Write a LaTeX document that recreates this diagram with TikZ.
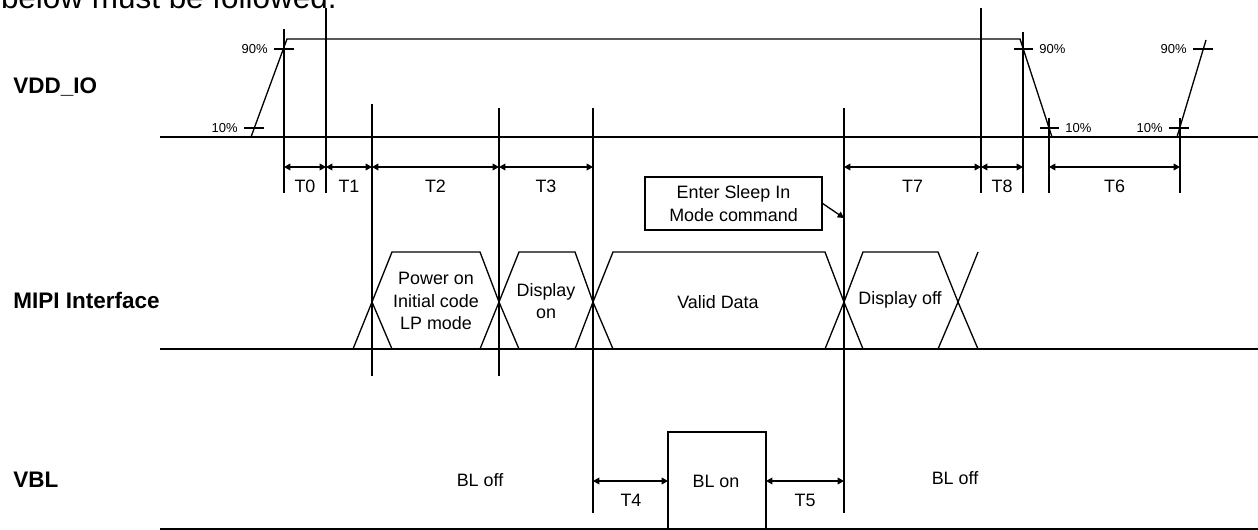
\documentclass[tikz,border=0pt]{standalone}
\usepackage{fontspec}
\setmainfont{Liberation Sans}
\usetikzlibrary{arrows.meta}

\tikzset{
  sig/.style={line width=0.75pt},
  dim/.style={line width=0.75pt,
    {Triangle[length=3.6pt,width=3.8pt]}-{Triangle[length=3.6pt,width=3.8pt]}},
  lbl/.style={font=\fontsize{10.2}{12.7}\selectfont, inner sep=0pt, align=center},
  pct/.style={font=\fontsize{7.4}{9}\selectfont, inner sep=0pt},
  signame/.style={font=\fontsize{12.8}{15}\selectfont\bfseries, inner sep=0pt, anchor=west},
}

\begin{document}
\begin{tikzpicture}[x=0.02cm, y=-0.02cm]
  \useasboundingbox (0,0) rectangle (1258,530);

  \node[font=\fontsize{17.9}{20}\selectfont, inner sep=0pt, anchor=base east] (head) at (337,9) {below must be followed.};

  % signal names
  \node[signame] (vdd) at (13,87) {VDD\_IO};
  \node[signame] (mipi) at (13,300) {MIPI Interface};
  \node[signame] (vbl) at (13,480) {VBL};

  % VDD_IO
  \draw[sig] (160,137) -- (1258,137);
  \draw[sig] (251,137) -- (287,39) -- (1020,39) -- (1052,137) -- (1177,137) -- (1206,40);
  \draw[sig] (244,128) -- (264,128);
  \draw[sig] (274,49) -- (294,49);
  \draw[sig] (1014,49) -- (1033,49);
  \draw[sig] (1040,128) -- (1059,128);
  \draw[sig] (1169,128) -- (1189,128);
  \draw[sig] (1193,49) -- (1213,49);
  \node[pct, anchor=east] (p10a) at (238,128) {10\%};
  \node[pct, anchor=east] (p90a) at (268,49) {90\%};
  \node[pct, anchor=west] (p90b) at (1039,49) {90\%};
  \node[pct, anchor=west] (p10b) at (1065,128) {10\%};
  \node[pct, anchor=east] (p10c) at (1163,128) {10\%};
  \node[pct, anchor=east] (p90c) at (1187,49) {90\%};

  % timing lines
  \draw[sig] (284,29) -- (284,193);
  \draw[sig] (326,8) -- (326,193);
  \draw[sig] (372,104) -- (372,376);
  \draw[sig] (499,108) -- (499,376);
  \draw[sig] (593,108) -- (593,513);
  \draw[sig] (844,108) -- (844,513);
  \draw[sig] (981,8) -- (981,193);
  \draw[sig] (1023,32) -- (1023,193);
  \draw[sig] (1049,118) -- (1049,193);
  \draw[sig] (1180,118) -- (1180,193);

  \foreach \a/\b/\t in {284/326/T0, 326/372/T1, 372/499/T2, 499/593/T3,
                        844/981/T7, 981/1023/T8, 1049/1180/T6} {
    \draw[dim] (\a,167) -- (\b,167);
    \node[lbl] (\t) at ({(\a+\b)/2},186) {\t};
  }

  \node[lbl, draw, line width=0.75pt, minimum width=3.54cm, minimum height=1.06cm] (sleep) at (733.5,203.5) {Enter Sleep In\\Mode command};
  \coordinate (sleeptip) at (844,218);
  \draw[sig, -{Triangle[length=3.6pt,width=3.8pt]}] (sleep.east) -- (sleeptip);

  % MIPI
  \draw[sig] (160,349) -- (1258,349);
  \draw[sig] (353,349) -- (372,302);
  \draw[sig] (372,302) -- (392,252) -- (480,252) -- (499,302) -- (480,349) -- (392,349) -- cycle;
  \draw[sig] (499,302) -- (519,252) -- (575,252) -- (593,302) -- (575,349) -- (519,349) -- cycle;
  \draw[sig] (593,302) -- (613,252) -- (825,252) -- (844,302) -- (825,349) -- (613,349) -- cycle;
  \draw[sig] (844,302) -- (863,252) -- (938,252) -- (958,302) -- (938,349) -- (863,349) -- cycle;
  \draw[sig] (958,302) -- (978,252);
  \draw[sig] (958,302) -- (978,349);
  \node[lbl] (pwr) at (436,301) {Power on\\Initial code\\LP mode};
  \node[lbl] (dspon) at (546,301) {Display\\on};
  \node[lbl] (valid) at (718,302) {Valid Data};
  \node[lbl] (dspoff) at (900,300) {Display off};

  % VBL
  \draw[sig] (160,529) -- (1258,529);
  \draw[sig] (668,529) -- (668,432) -- (766,432) -- (766,529);
  \draw[dim] (593,481) -- (668,481);
  \draw[dim] (766,481) -- (844,481);
  \node[lbl] (T4) at (631,500) {T4};
  \node[lbl] (T5) at (805,500) {T5};
  \node[lbl] (bloffa) at (480,480) {BL off};
  \node[lbl] (blon) at (716,481) {BL on};
  \node[lbl] (bloffb) at (955,478) {BL off};
\end{tikzpicture}
\end{document}
